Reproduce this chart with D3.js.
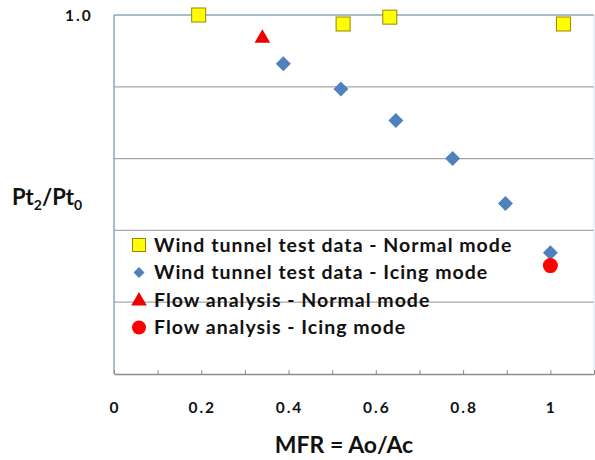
<!DOCTYPE html>
<html>
<head>
<meta charset="utf-8">
<script src="https://cdn.jsdelivr.net/npm/d3@7"></script>
<style>
body { margin: 0; background: #fff; }
text { font-family: Lato, "Open Sans", sans-serif; font-weight: bold; fill: #111; }
</style>
</head>
<body>
<svg width="595" height="460"></svg>
<script>
// wind tunnel test data - normal mode
var tunnelNormalMfr = [0.194, 0.525, 0.632, 1.030];
var tunnelNormalPt  = [1.000, 0.9875, 0.997, 0.9875];
// wind tunnel test data - icing mode
var tunnelIcingMfr = [0.388, 0.520, 0.646, 0.776, 0.897, 1.000];
var tunnelIcingPt  = [0.932, 0.897, 0.853, 0.800, 0.7375, 0.669];
// flow analysis
var flowNormalMfr = [0.340], flowNormalPt = [0.969];
var flowIcingMfr  = [1.000], flowIcingPt  = [0.651];

var xTickLabels = [0, 0.2, 0.4, 0.6, 0.8, 1];
var yGrid = [0.6, 0.7, 0.8, 0.9];
var legendLabels = ["Wind tunnel test data - Normal mode", "Wind tunnel test data - Icing mode",
                    "Flow analysis - Normal mode", "Flow analysis - Icing mode"];

var svg = d3.select("svg"),
    margin = {top: 15, right: 1, bottom: 86, left: 114},
    width = 595 - margin.left - margin.right,
    height = 460 - margin.top - margin.bottom,
    g = svg.append("g").attr("transform", "translate(" + margin.left + "," + margin.top + ")");

var x = d3.scaleLinear().domain([0, 1.1]).range([0, width]);
var y = d3.scaleLinear().domain([0.5, 1.0]).range([height, 0]);

function pts(xs, ys) { return xs.map(function(v, i) { return {x: v, y: ys[i]}; }); }

// grid
g.selectAll(".grid").data(yGrid).enter().append("line")
    .attr("x1", 0).attr("x2", width)
    .attr("y1", function(d) { return y(d); }).attr("y2", function(d) { return y(d); })
    .attr("stroke", "#a6a6a6").attr("stroke-width", 1.2);

// frame
g.append("line").attr("x1", 0).attr("x2", width).attr("y1", y(1)).attr("y2", y(1))
    .attr("stroke", "#86a8ba").attr("stroke-width", 1.5);
g.append("line").attr("x1", width).attr("x2", width).attr("y1", 0).attr("y2", height)
    .attr("stroke", "#d6e6f0").attr("stroke-width", 1);
g.append("line").attr("x1", 0).attr("x2", 0).attr("y1", 0).attr("y2", height)
    .attr("stroke", "#86a8ba").attr("stroke-width", 1.5);

// x axis: minor ticks pointing up, labels further below
var xa = g.append("g").attr("transform", "translate(0," + height + ")")
    .call(d3.axisBottom(x).tickValues(d3.range(0, 1.11, 0.1)).tickSizeInner(-4).tickSizeOuter(0).tickFormat(""));
xa.select(".domain").attr("stroke", "#8c8c8c").attr("stroke-width", 1.5);
xa.selectAll(".tick line").attr("stroke", "#8c8c8c");

g.selectAll(".xl").data(xTickLabels).enter().append("text")
    .attr("x", function(d) { return x(d) + 1; })
    .attr("y", height + 39)
    .attr("text-anchor", "middle")
    .attr("font-size", 15.5)
    .attr("letter-spacing", 2)
    .text(function(d) { return d; });

// only the top value is labelled on the y axis
g.append("text").attr("x", -49).attr("y", y(1) + 6)
    .attr("font-size", 15.5).attr("letter-spacing", 2).text(y.domain()[1].toFixed(1));

// axis titles
svg.append("text").attr("x", 344).attr("y", 453).attr("text-anchor", "middle")
    .attr("font-size", 23).text("MFR = Ao/Ac");

var yt = svg.append("text").attr("x", 12).attr("y", 205).attr("font-size", 22);
yt.append("tspan").text("Pt");
yt.append("tspan").attr("font-size", 14).attr("dy", 5).text("2");
yt.append("tspan").attr("dy", -5).text("/Pt");
yt.append("tspan").attr("font-size", 14).attr("dy", 5).text("0");

// markers
var sq = 14, diamond = d3.symbol().type(d3.symbolDiamond2).size(143),
    tri = d3.symbol().type(d3.symbolTriangle).size(105);

function square(sel) {
    sel.attr("width", sq).attr("height", sq)
       .attr("fill", "#ffff00").attr("stroke", "#9a8400").attr("stroke-width", 1);
}

g.selectAll(".sq").data(pts(tunnelNormalMfr, tunnelNormalPt)).enter().append("rect")
    .attr("x", function(d) { return x(d.x) - sq / 2; })
    .attr("y", function(d) { return y(d.y) - sq / 2; })
    .call(square);

g.selectAll(".dia").data(pts(tunnelIcingMfr, tunnelIcingPt)).enter().append("path")
    .attr("d", diamond)
    .attr("transform", function(d) { return "translate(" + x(d.x) + "," + y(d.y) + ")"; })
    .attr("fill", "#4f81bd");

g.selectAll(".tri").data(pts(flowNormalMfr, flowNormalPt)).enter().append("path")
    .attr("d", tri)
    .attr("transform", function(d) { return "translate(" + x(d.x) + "," + (y(d.y) + 1) + ")"; })
    .attr("fill", "#ee0000");

g.selectAll(".dot").data(pts(flowIcingMfr, flowIcingPt)).enter().append("circle")
    .attr("cx", function(d) { return x(d.x); })
    .attr("cy", function(d) { return y(d.y); })
    .attr("r", 7.5)
    .attr("fill", "#ff0000");

// legend
var legend = svg.append("g").selectAll("g")
    .data(legendLabels)
    .enter().append("g")
    .attr("transform", function(d, i) { return "translate(139," + (245 + i * 27.5) + ")"; });

legend.each(function(d, i) {
    var l = d3.select(this);
    if (i == 0) l.append("rect").attr("x", -6.5).attr("y", -6.5).call(square).attr("width", 13).attr("height", 13);
    if (i == 1) l.append("path").attr("d", d3.symbol().type(d3.symbolDiamond2).size(78)).attr("fill", "#4f81bd");
    if (i == 2) l.append("path").attr("d", tri).attr("transform", "translate(0,1)").attr("fill", "#ee0000");
    if (i == 3) l.append("circle").attr("r", 7).attr("fill", "#ff0000");
});

legend.append("text")
    .attr("x", 15)
    .attr("dy", "0.35em")
    .attr("font-size", 19.5)
    .attr("letter-spacing", 1)
    .text(function(d) { return d; });
</script>
</body>
</html>
